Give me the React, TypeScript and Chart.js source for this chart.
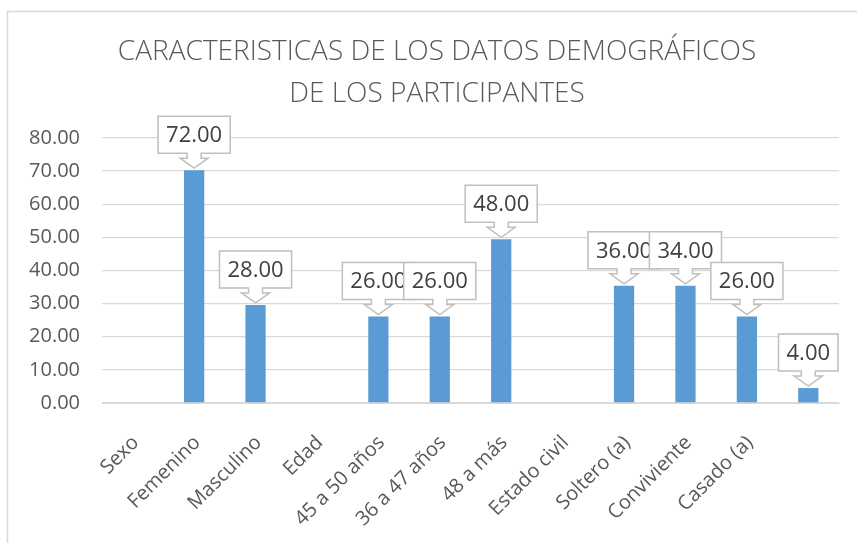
import React, { useEffect, useRef } from "react";
import { Chart, registerables } from "chart.js";

Chart.register(...registerables);

const TITLE_LINES = ["CARACTERISTICAS DE LOS DATOS DEMOGRÁFICOS", "DE LOS PARTICIPANTES"];
const CATEGORIES = [
  "Sexo",
  "Femenino",
  "Masculino",
  "Edad",
  "45 a 50 años",
  "36 a 47 años",
  "48 a más",
  "Estado civil",
  "Soltero (a)",
  "Conviviente",
  "Casado (a)",
  "",
];
// bar heights as drawn
const BAR_VALUES: (number | null)[] = [null, 70.3, 29.6, null, 26.1, 26.1, 49.4, null, 35.4, 35.4, 26.1, 4.5];
// values printed in the callout labels
const LABEL_VALUES: (number | null)[] = [null, 72, 28, null, 26, 26, 48, null, 36, 34, 26, 4];
const Y_MIN = 0;
const Y_MAX = 80;
const Y_STEP = 10;

const FONT = "'Open Sans', 'Noto Sans', sans-serif";

const framePlugin = {
  id: "frame",
  beforeDraw(chart: any) {
    const ctx = chart.ctx;
    ctx.save();
    ctx.fillStyle = "#ffffff";
    ctx.fillRect(0, 0, chart.width, chart.height);
    ctx.strokeStyle = "#D9D9D9";
    ctx.lineWidth = 1.5;
    ctx.beginPath();
    ctx.moveTo(7.5, chart.height);
    ctx.lineTo(7.5, 11.5);
    ctx.lineTo(chart.width, 11.5);
    ctx.stroke();
    ctx.restore();
  },
  afterDraw(chart: any) {
    const ctx = chart.ctx;
    ctx.save();
    ctx.fillStyle = "#595959";
    ctx.font = `300 28px ${FONT}`;
    ctx.textAlign = "center";
    ctx.textBaseline = "middle";
    TITLE_LINES.forEach((line, i) => {
      ctx.fillText(line, 437, 52 + i * 42);
    });
    ctx.restore();
  },
};

const calloutPlugin = {
  id: "callouts",
  afterDatasetsDraw(chart: any) {
    const ctx = chart.ctx;
    const meta = chart.getDatasetMeta(0);
    ctx.save();
    ctx.font = `22px ${FONT}`;
    meta.data.forEach((bar: any, i: number) => {
      const v = LABEL_VALUES[i];
      if (v == null || BAR_VALUES[i] == null) return;
      const text = v.toFixed(2);
      const tw = ctx.measureText(text).width;
      const w = tw + 16;
      const h = 37;
      const cx = bar.x;
      const tip = bar.y - 2;
      const yb = tip - 15;
      const yt = yb - h;
      const x0 = cx - w / 2;
      const x1 = cx + w / 2;
      ctx.beginPath();
      ctx.moveTo(x0, yt);
      ctx.lineTo(x1, yt);
      ctx.lineTo(x1, yb);
      ctx.lineTo(cx + 7, yb);
      ctx.lineTo(cx + 7, yb + 5);
      ctx.lineTo(cx + 14, yb + 5);
      ctx.lineTo(cx, tip);
      ctx.lineTo(cx - 14, yb + 5);
      ctx.lineTo(cx - 7, yb + 5);
      ctx.lineTo(cx - 7, yb);
      ctx.lineTo(x0, yb);
      ctx.closePath();
      ctx.fillStyle = "#ffffff";
      ctx.fill();
      ctx.strokeStyle = "#BFBFBF";
      ctx.lineWidth = 1.5;
      ctx.stroke();
      ctx.fillStyle = "#404040";
      ctx.textAlign = "center";
      ctx.textBaseline = "middle";
      ctx.fillText(text, cx, (yt + yb) / 2 + 1);
    });
    ctx.restore();
  },
};

export default function App() {
  const ref = useRef<HTMLCanvasElement | null>(null);
  useEffect(() => {
    if (!ref.current) return;
    const chart = new Chart(ref.current, {
      type: "bar",
      data: {
        labels: CATEGORIES,
        datasets: [
          {
            data: BAR_VALUES as any,
            backgroundColor: "#5B9BD5",
            categoryPercentage: 1,
            barPercentage: 0.33,
          },
        ],
      },
      options: {
        responsive: false,
        animation: false,
        layout: { padding: { left: 8, right: 18, top: 138, bottom: 10 } },
        plugins: {
          legend: { display: false },
          tooltip: { enabled: false },
          title: { display: false },
        },
        scales: {
          x: {
            grid: { display: false },
            border: { display: true, color: "#D9D9D9", width: 1 },
            ticks: {
              color: "#595959",
              font: { family: FONT, size: 20 },
              maxRotation: 45,
              minRotation: 45,
              autoSkip: false,
              padding: 20,
              labelOffset: 3,
            },
            afterFit: (s: any) => {
              s.height = 130;
            },
          },
          y: {
            min: Y_MIN,
            max: Y_MAX,
            ticks: {
              stepSize: Y_STEP,
              color: "#595959",
              font: { family: FONT, size: 20 },
              padding: 22,
              callback: (v: any) => Number(v).toFixed(2),
            },
            grid: { color: "#D9D9D9", drawTicks: false, lineWidth: 1.3 },
            border: { display: false },
            afterFit: (s: any) => {
              s.width = 94;
            },
          },
        },
      },
      plugins: [framePlugin, calloutPlugin],
    });
    return () => chart.destroy();
  }, []);
  return (
    <div style={{ position: "absolute", left: 0, top: 0, width: 857, height: 543 }}>
      <canvas ref={ref} width={857} height={543} style={{ display: "block" }} />
    </div>
  );
}
